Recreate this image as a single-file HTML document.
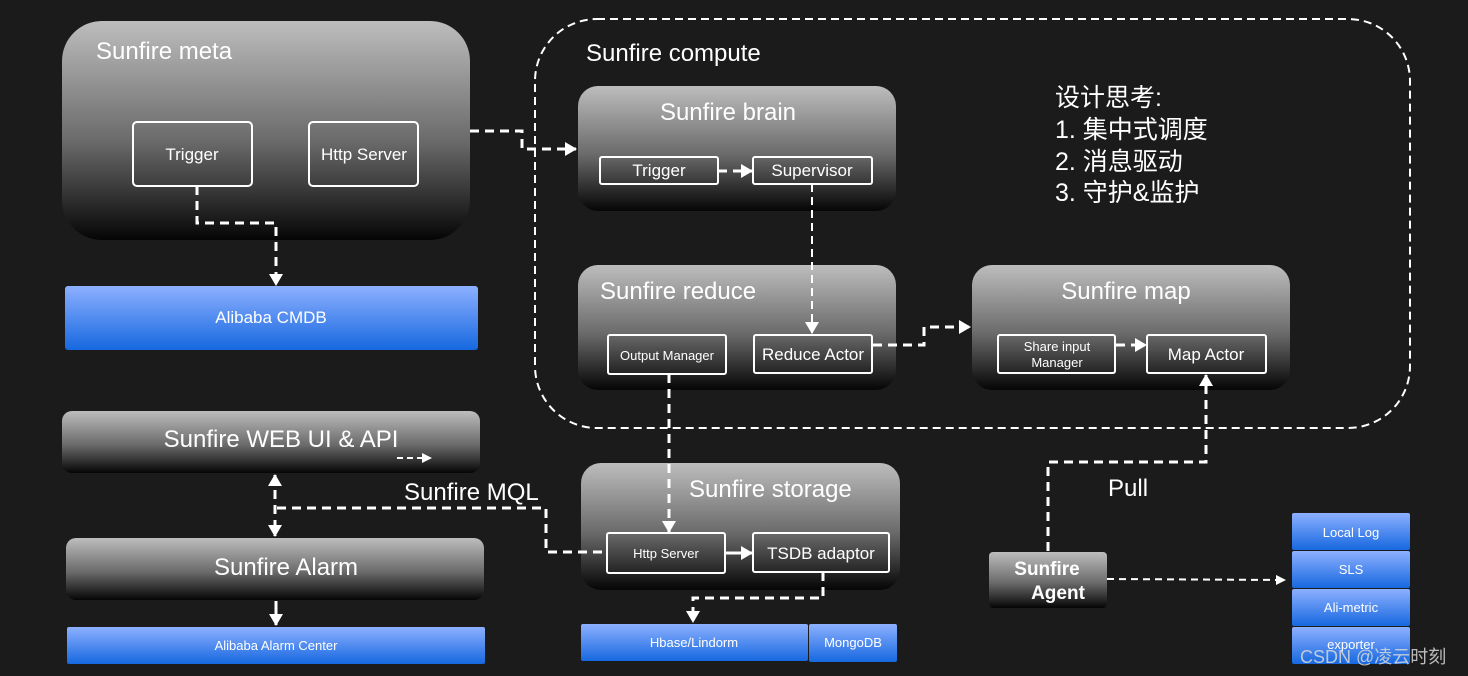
<!DOCTYPE html>
<html><head><meta charset="utf-8"><style>
html,body{margin:0;padding:0;background:#1b1b1b;}
svg{display:block;font-family:"Liberation Sans","Noto Sans CJK SC",sans-serif;}
</style></head><body>
<svg width="1468" height="676" viewBox="0 0 1468 676" xmlns="http://www.w3.org/2000/svg">
<defs>
<linearGradient id="g" x1="0" y1="0" x2="0" y2="1"><stop offset="0" stop-color="#bdbdbd"/><stop offset="0.55" stop-color="#6a6a6a"/><stop offset="1" stop-color="#050505"/></linearGradient>
<linearGradient id="b" x1="0" y1="0" x2="0" y2="1"><stop offset="0" stop-color="#8db0ff"/><stop offset="1" stop-color="#1668e0"/></linearGradient>
<marker id="a" markerWidth="10" markerHeight="10" refX="8" refY="5" orient="auto" markerUnits="userSpaceOnUse"><path d="M0,0 L10,5 L0,10 z" fill="#fff"/></marker>
<marker id="as" markerWidth="12" markerHeight="14" refX="11" refY="7" orient="auto" markerUnits="userSpaceOnUse"><path d="M0,0 L12,7 L0,14 z" fill="#fff"/></marker>
<marker id="st" markerWidth="12" markerHeight="14" refX="1" refY="7" orient="auto" markerUnits="userSpaceOnUse"><path d="M12,0 L0,7 L12,14 z" fill="#fff"/></marker>
</defs>
<rect width="1468" height="676" fill="#1b1b1b"/>

<!-- compute dashed -->
<rect x="535" y="19" width="875" height="409" rx="62" fill="none" stroke="#fff" stroke-width="2" stroke-dasharray="8,5"/>
<text x="586" y="61" font-size="24" fill="#fff">Sunfire compute</text>

<!-- meta -->
<rect x="62" y="21" width="408" height="219" rx="40" fill="url(#g)"/>
<text x="96" y="59" font-size="24" fill="#fff">Sunfire meta</text>
<rect x="133" y="122" width="119" height="64" rx="4" fill="none" stroke="#fff" stroke-width="2"/>
<text x="192" y="160" font-size="17" fill="#fff" text-anchor="middle">Trigger</text>
<rect x="309" y="122" width="109" height="64" rx="4" fill="none" stroke="#fff" stroke-width="2"/>
<text x="364" y="160" font-size="17" fill="#fff" text-anchor="middle">Http Server</text>
<polyline points="197,186 197,223 276,223 276,285" fill="none" stroke="#fff" stroke-width="3" stroke-dasharray="9,6" marker-end="url(#as)"/>
<rect x="65" y="286" width="413" height="64" rx="3" fill="url(#b)"/>
<text x="271" y="323" font-size="17" fill="#fff" text-anchor="middle">Alibaba CMDB</text>

<polyline points="470,131 522,131 522,149 576,149" fill="none" stroke="#fff" stroke-width="3" stroke-dasharray="9,6" marker-end="url(#as)"/>

<!-- brain -->
<rect x="578" y="86" width="318" height="125" rx="20" fill="url(#g)"/>
<text x="728" y="120" font-size="24" fill="#fff" text-anchor="middle">Sunfire brain</text>
<rect x="600" y="157" width="118" height="27" rx="2" fill="none" stroke="#fff" stroke-width="2"/>
<text x="659" y="176" font-size="17" fill="#fff" text-anchor="middle">Trigger</text>
<rect x="753" y="157" width="119" height="27" rx="2" fill="none" stroke="#fff" stroke-width="2"/>
<text x="812" y="176" font-size="17" fill="#fff" text-anchor="middle">Supervisor</text>
<line x1="718" y1="171" x2="752" y2="171" stroke="#fff" stroke-width="3" stroke-dasharray="9,6" marker-end="url(#as)"/>

<!-- reduce -->
<rect x="578" y="265" width="318" height="125" rx="20" fill="url(#g)"/>
<text x="600" y="299" font-size="24" fill="#fff">Sunfire reduce</text>
<rect x="608" y="335" width="118" height="39" rx="2" fill="none" stroke="#fff" stroke-width="2"/>
<text x="667" y="360" font-size="13" fill="#fff" text-anchor="middle">Output Manager</text>
<rect x="754" y="335" width="118" height="38" rx="2" fill="none" stroke="#fff" stroke-width="2"/>
<text x="813" y="360" font-size="17" fill="#fff" text-anchor="middle">Reduce Actor</text>
<line x1="812" y1="184" x2="812" y2="333" stroke="#fff" stroke-width="2" stroke-dasharray="8,5" marker-end="url(#as)"/>
<polyline points="873,345 924,345 924,327 970,327" fill="none" stroke="#fff" stroke-width="3" stroke-dasharray="9,6" marker-end="url(#as)"/>

<!-- map -->
<rect x="972" y="265" width="318" height="125" rx="20" fill="url(#g)"/>
<text x="1126" y="299" font-size="24" fill="#fff" text-anchor="middle">Sunfire map</text>
<rect x="998" y="335" width="117" height="38" rx="2" fill="none" stroke="#fff" stroke-width="2"/>
<text x="1057" y="351" font-size="13" fill="#fff" text-anchor="middle">Share input</text>
<text x="1057" y="367" font-size="13" fill="#fff" text-anchor="middle">Manager</text>
<rect x="1147" y="335" width="119" height="38" rx="2" fill="none" stroke="#fff" stroke-width="2"/>
<text x="1206" y="360" font-size="17" fill="#fff" text-anchor="middle">Map Actor</text>
<line x1="1116" y1="345" x2="1146" y2="345" stroke="#fff" stroke-width="3" stroke-dasharray="9,6" marker-end="url(#as)"/>

<!-- design -->
<g font-size="25" fill="#fff">
<text x="1055" y="106">设计思考:</text>
<text x="1055" y="138">1. 集中式调度</text>
<text x="1055" y="170">2. 消息驱动</text>
<text x="1055" y="201">3. 守护&amp;监护</text>
</g>

<!-- web ui -->
<rect x="62" y="411" width="418" height="62" rx="10" fill="url(#g)"/>
<text x="281" y="447" font-size="24" fill="#fff" text-anchor="middle">Sunfire WEB UI &amp; API</text>
<line x1="397" y1="458" x2="430" y2="458" stroke="#fff" stroke-width="2" stroke-dasharray="6,4" marker-end="url(#a)"/>
<line x1="275" y1="475" x2="275" y2="536" stroke="#fff" stroke-width="3" stroke-dasharray="9,6" marker-start="url(#st)" marker-end="url(#as)"/>
<text x="404" y="500" font-size="24" fill="#fff">Sunfire MQL</text>

<rect x="66" y="538" width="418" height="62" rx="10" fill="url(#g)"/>
<text x="286" y="575" font-size="24" fill="#fff" text-anchor="middle">Sunfire Alarm</text>
<line x1="276" y1="601" x2="276" y2="625" stroke="#fff" stroke-width="3" marker-end="url(#as)"/>
<rect x="67" y="627" width="418" height="37" rx="2" fill="url(#b)"/>
<text x="276" y="650" font-size="13" fill="#fff" text-anchor="middle">Alibaba Alarm Center</text>

<!-- storage -->
<rect x="581" y="463" width="319" height="127" rx="20" fill="url(#g)"/>
<text x="689" y="497" font-size="24" fill="#fff">Sunfire storage</text>
<polyline points="277,508 546,508 546,552 605,552" fill="none" stroke="#fff" stroke-width="3" stroke-dasharray="9,6"/>
<line x1="669" y1="374" x2="669" y2="532" stroke="#fff" stroke-width="3" stroke-dasharray="9,6" marker-end="url(#as)"/>
<rect x="607" y="533" width="118" height="40" rx="2" fill="none" stroke="#fff" stroke-width="2"/>
<text x="666" y="558" font-size="13" fill="#fff" text-anchor="middle">Http Server</text>
<rect x="753" y="533" width="136" height="39" rx="2" fill="none" stroke="#fff" stroke-width="2"/>
<text x="821" y="559" font-size="17" fill="#fff" text-anchor="middle">TSDB adaptor</text>
<line x1="725" y1="553" x2="752" y2="553" stroke="#fff" stroke-width="3" marker-end="url(#as)"/>
<polyline points="823,572 823,598 693,598 693,622" fill="none" stroke="#fff" stroke-width="3" stroke-dasharray="9,6" marker-end="url(#as)"/>
<rect x="581" y="624" width="227" height="37" rx="2" fill="url(#b)"/>
<text x="694" y="647" font-size="13" fill="#fff" text-anchor="middle">Hbase/Lindorm</text>
<rect x="809" y="624" width="88" height="38" rx="2" fill="url(#b)"/>
<text x="853" y="647" font-size="13" fill="#fff" text-anchor="middle">MongoDB</text>

<!-- agent -->
<polyline points="1048,551 1048,462 1206,462 1206,375" fill="none" stroke="#fff" stroke-width="3" stroke-dasharray="9,6" marker-end="url(#as)"/>
<text x="1108" y="496" font-size="24" fill="#fff">Pull</text>
<rect x="989" y="552" width="118" height="56" rx="4" fill="url(#g)"/>
<text x="1047" y="575" font-size="19" font-weight="bold" fill="#fff" text-anchor="middle">Sunfire</text>
<text x="1058" y="599" font-size="19" font-weight="bold" fill="#fff" text-anchor="middle">Agent</text>
<line x1="1107" y1="579" x2="1284" y2="580" stroke="#fff" stroke-width="2" stroke-dasharray="7,5" marker-end="url(#a)"/>

<g font-size="13" fill="#fff" text-anchor="middle">
<rect x="1292" y="513" width="118" height="37" rx="2" fill="url(#b)"/><text x="1351" y="537">Local Log</text>
<rect x="1292" y="551" width="118" height="37" rx="2" fill="url(#b)"/><text x="1351" y="574">SLS</text>
<rect x="1292" y="589" width="118" height="37" rx="2" fill="url(#b)"/><text x="1351" y="612">Ali-metric</text>
<rect x="1292" y="627" width="118" height="37" rx="2" fill="url(#b)"/><text x="1351" y="649">exporter</text>
</g>
<text x="1300" y="663" font-size="18" fill="#d8d8d8" opacity="0.85">CSDN @凌云时刻</text>
</svg>
</body></html>
